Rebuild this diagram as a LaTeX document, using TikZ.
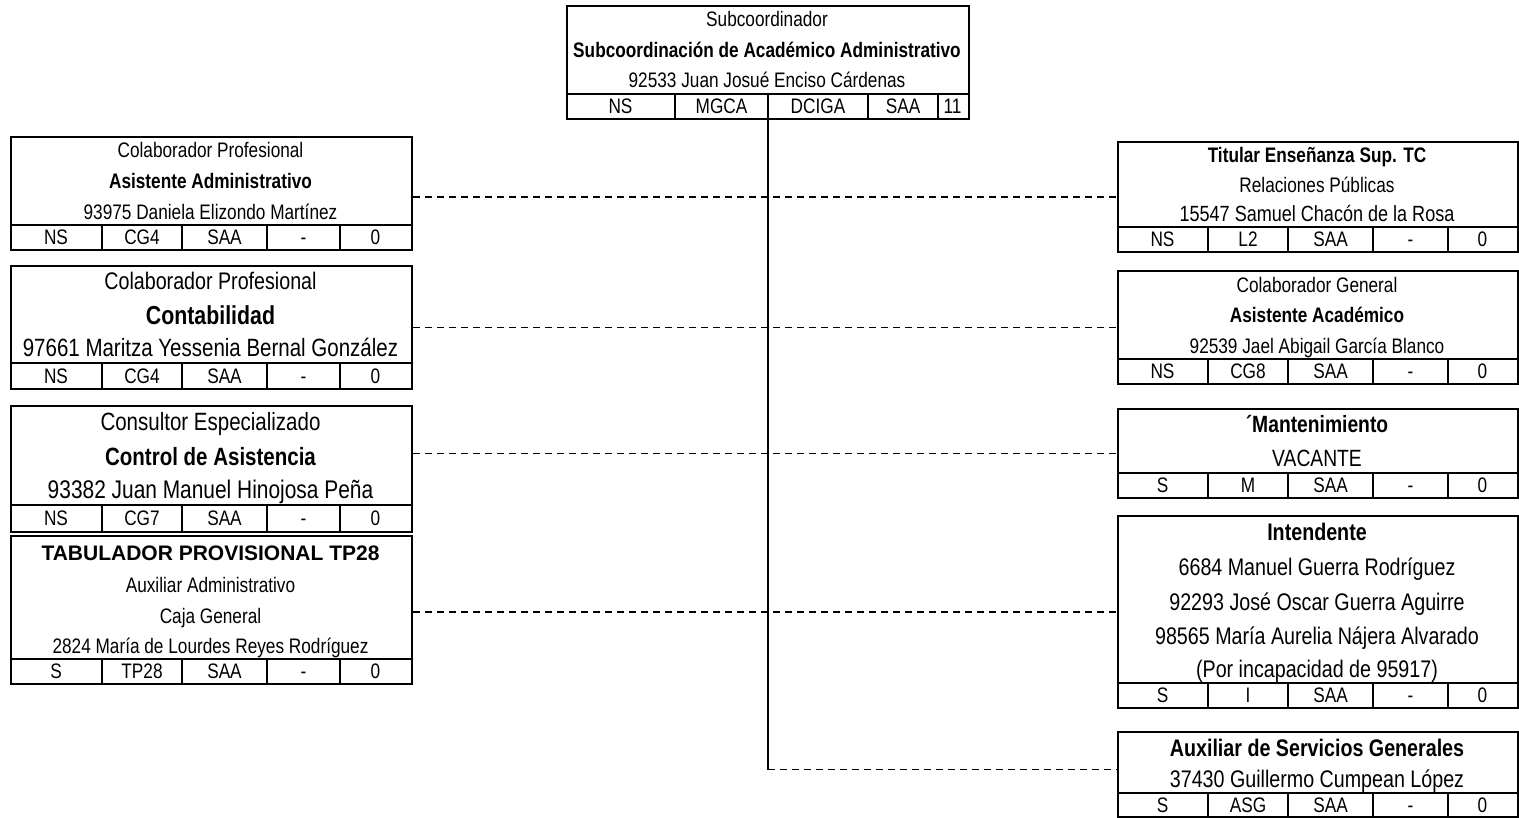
\documentclass[tikz,border=0pt]{standalone}
\usepackage{fontspec}
\setmainfont{Liberation Sans}[FakeStretch=0.82]
\newfontfamily\widefont{Liberation Sans}

\tikzset{
  card/.style={draw, line width=2pt, inner sep=0pt, anchor=north west},
  rule/.style={line width=1.4pt},
  link/.style={line width=1.4pt, dash pattern=on 7pt off 5pt},
  txt/.style={font=\fontsize{#1}{#1}\selectfont, inner sep=0pt, anchor=base, yshift={-0.36*#1pt}},
  bld/.style={txt=#1, font=\fontsize{#1}{#1}\selectfont\bfseries},
}

\begin{document}
\begin{tikzpicture}[x=1pt, y=-1pt]
    \useasboundingbox (0,0) rectangle (1519,818);
    % head of the office
    \node[card, minimum width=402pt, minimum height=113pt] (sub) at (566,5) {};
    \draw[rule] (566,94) -- (968,94);
    \foreach \x in {675,768,868,938} \draw[rule] (\x,94) -- (\x,118);
    \foreach \cx/\lbl [count=\i] in {620.5/NS, 721.5/MGCA, 818/DCIGA, 903/SAA, 952.5/11}
        \node[txt=21] (sub-c\i) at (\cx,106) {\lbl};
    \node[txt=21] (sub-1) at (767,19) {Subcoordinador};
    \node[bld=21] (sub-2) at (767,50) {Subcoordinación de Académico Administrativo};
    \node[txt=21] (sub-3) at (767,80) {92533 Juan Josué Enciso Cárdenas};

    % left column frames
    \foreach \nm/\top/\sep/\bot in {b1/136/225/249, b2/265/363/388, b3/405/505/531, b4/535/659/683} {
        \node[card, minimum width=401pt, minimum height={(\bot-\top)*1pt}] (\nm) at (10,\top) {};
        \draw[rule] (10,\sep) -- (411,\sep);
        \foreach \x in {102,182,267,340} \draw[rule] (\x,\sep) -- (\x,\bot);
    }
    % right column frames
    \foreach \nm/\top/\sep/\bot in {r1/141/227/251, r2/270/359/383, r3/408/473/497, r4/515/683/707, r5/731/793/816} {
        \node[card, minimum width=400pt, minimum height={(\bot-\top)*1pt}] (\nm) at (1117,\top) {};
        \draw[rule] (1117,\sep) -- (1517,\sep);
        \foreach \x in {1208,1288,1373,1448} \draw[rule] (\x,\sep) -- (\x,\bot);
    }

    % table rows
    \foreach \nm/\y/\a/\b in {b1/237/NS/CG4, b2/376/NS/CG4, b3/518/NS/CG7, b4/671/S/TP28} {
        \foreach \cx/\lbl [count=\i] in {56/\a, 142/\b, 224.5/SAA, 303.5/-, 375.5/0}
            \node[txt=21] (\nm-c\i) at (\cx,\y) {\lbl};
    }
    \foreach \nm/\y/\a/\b in {r1/239/NS/L2, r2/371/NS/CG8, r3/485/S/M, r4/695/S/I, r5/805/S/ASG} {
        \foreach \cx/\lbl [count=\i] in {1162.5/\a, 1248/\b, 1330.5/SAA, 1410.5/-, 1482.5/0}
            \node[txt=21] (\nm-c\i) at (\cx,\y) {\lbl};
    }

    % left texts
    \node[txt=21] (b1-1) at (210.5,150) {Colaborador Profesional};
    \node[bld=21] (b1-2) at (210.5,181) {Asistente Administrativo};
    \node[txt=21] (b1-3) at (210.5,212) {93975 Daniela Elizondo Martínez};
    \node[txt=24] (b2-1) at (210.5,281) {Colaborador Profesional};
    \node[bld=26] (b2-2) at (210.5,315) {Contabilidad};
    \node[txt=25] (b2-3) at (210.5,348) {97661 Maritza Yessenia Bernal González};
    \node[txt=25] (b3-1) at (210.5,421) {Consultor Especializado};
    \node[bld=25] (b3-2) at (210.5,456) {Control de Asistencia};
    \node[txt=25.5] (b3-3) at (210.5,489) {93382 Juan Manuel Hinojosa Peña};
    \node[txt=21, font=\fontsize{21}{21}\selectfont\widefont\bfseries] (b4-1) at (210.5,553) {TABULADOR PROVISIONAL TP28};
    \node[txt=21] (b4-2) at (210.5,585) {Auxiliar Administrativo};
    \node[txt=21] (b4-3) at (210.5,616) {Caja General};
    \node[txt=21] (b4-4) at (210.5,646) {2824 María de Lourdes Reyes Rodríguez};

    % right texts
    \node[bld=21] (r1-1) at (1317,155) {Titular Enseñanza Sup. TC};
    \node[txt=21] (r1-2) at (1317,185) {Relaciones Públicas};
    \node[txt=22] (r1-3) at (1317,214) {15547 Samuel Chacón de la Rosa};
    \node[txt=21] (r2-1) at (1317,285) {Colaborador General};
    \node[bld=21] (r2-2) at (1317,315) {Asistente Académico};
    \node[txt=21] (r2-3) at (1317,346) {92539 Jael Abigail García Blanco};
    \node[bld=23.5] (r3-1) at (1317,424) {´Mantenimiento};
    \node[txt=23.5] (r3-2) at (1317,458) {VACANTE};
    \node[bld=24] (r4-1) at (1317,532) {Intendente};
    \node[txt=24] (r4-2) at (1317,567) {6684 Manuel Guerra Rodríguez};
    \node[txt=24] (r4-3) at (1317,602) {92293 José Oscar Guerra Aguirre};
    \node[txt=24] (r4-4) at (1317,636) {98565 María Aurelia Nájera Alvarado};
    \node[txt=24] (r4-5) at (1317,669) {(Por incapacidad de 95917)};
    \node[bld=24] (r5-1) at (1317,748) {Auxiliar de Servicios Generales};
    \node[txt=24] (r5-2) at (1317,779) {37430 Guillermo Cumpean López};

    % connectors
    \coordinate (stem) at (768,118);
    \coordinate (r5-in) at ([yshift=5pt]r5.west);
    \coordinate (elbow) at (stem |- r5-in);
    \draw[rule] (stem) -- (elbow);
    \draw[link] (elbow) -- (r5-in);
    \foreach \a/\b in {b1/r1, b2/r2, b3/r3, b4/r4}
        \draw[link] (\a.east |- \b.west) -- (\b.west);
\end{tikzpicture}
\end{document}
